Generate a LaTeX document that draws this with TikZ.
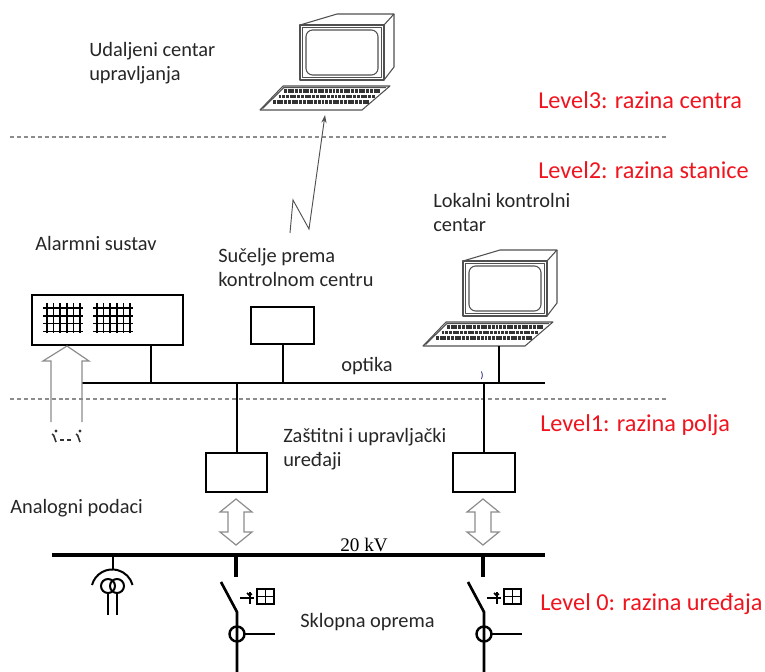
\documentclass[tikz,border=0pt]{standalone}
\usepackage{fontspec}
\setmainfont{Carlito}
\newfontfamily\timesfont{Liberation Serif}
\usetikzlibrary{arrows.meta}
\definecolor{lvlred}{RGB}{240,20,30}
\definecolor{cgray}{RGB}{80,80,80}
\definecolor{agray}{RGB}{140,140,140}
\tikzset{
  lbl/.style={font=\fontsize{15.3}{18}\selectfont, inner sep=0pt, anchor=west, align=left, text=black!85},
  lvl/.style={font=\fontsize{18.2}{22}\selectfont, inner sep=0pt, anchor=west, text=lvlred},
  boxnode/.style={draw, line width=1.5pt, inner sep=0pt},
  wire/.style={line width=1.5pt},
  optbus/.style={line width=1.7pt},
  hvbus/.style={line width=3pt},
  levelline/.style={draw=agray, line width=1.1pt, dash pattern=on 3pt off 2.2pt},
  hollow/.style={draw=agray, line width=0.9pt, fill=white, line join=miter},
  keyrow/.style={line width=2.4pt, black!80, dash pattern=on 2.2pt off 0.6pt},
  computer/.pic={
    \begin{scope}[draw=cgray, line width=0.8pt, line join=round]
      \draw (0,0) -- (37,-11) -- (94,-11) -- (84,0);
      \draw (94,-11) -- (94,42) -- (84,55);
      \draw (0,0) rectangle (84,55);
      \draw (2.5,2.5) rectangle (81.5,52.5);
      \draw[rounded corners=5pt] (6,5) rectangle (78,50);
      \draw (-40,85) -- (-17,61) -- (90,61) -- (62,85) -- cycle;
      \draw (-37.5,83.5) -- (-16,62.5) -- (86,62.5);
      \draw[keyrow] (-16,66) -- (80,66);
      \draw[keyrow] (-21.5,71.5) -- (75,71.5);
      \draw[keyrow] (-27,77) -- (70,77);
    \end{scope}
  },
  dblarrow/.pic={
    \draw[hollow] (0,-23) -- (16,-10) -- (8,-10) -- (8,10) -- (16,10) -- (0,23)
      -- (-16,10) -- (-8,10) -- (-8,-10) -- (-16,-10) -- cycle;
  },
  swgear/.pic={
    \draw[line width=3pt] (0,0) -- (0,22);
    \draw[line width=2pt] (-15,27) -- (1,57) -- (1,119);
    \draw[line width=1.5pt] (4,43) -- (11,43);
    \draw[line width=1.3pt] (14,37) -- (14,49);
    \draw[line width=1.3pt] (10,43) -- (18,43);
    \draw[line width=1.3pt] (11,38) .. controls (12,40) and (14,41) .. (16,39);
    \draw[line width=1.5pt] (21,34) rectangle (38,49);
    \draw[line width=1.2pt] (29.5,34) -- (29.5,49) (21,41.5) -- (38,41.5);
    \draw[line width=1.8pt] (1,79) circle[radius=7.5];
    \draw[line width=1.8pt] (8.5,79) -- (39,79);
  }
}
\begin{document}
\begin{tikzpicture}[x=0.75pt,y=-0.75pt]
\useasboundingbox (0,0) rectangle (765,672);

% level separators
\coordinate (d1a) at (10,137); \coordinate (d1b) at (666,137);
\coordinate (d2a) at (10,399); \coordinate (d2b) at (668,399);
\draw[levelline] (d1a) -- (d1b);
\draw[levelline] (d2a) -- (d2b);

% level labels
\node[lvl] (l3) at (538,100) {Level3: razina centra};
\node[lvl] (l2) at (538,170) {Level2: razina stanice};
\node[lvl] (l1) at (540,425) {Level1: razina polja};
\node[lvl] (l0) at (540,604) {Level 0: razina uređaja};

% remote control centre
\pic (pcTop) at (300,25) {computer};
\coordinate (kbTop) at (325,115);
\node[lbl] (tUdaljeni) at (89,63) {Udaljeni centar\\upravljanja};

% radio link
\coordinate (zz0) at (290,233);
\coordinate (zz1) at (293,200);
\coordinate (zz2) at (309,229);
\draw[cgray, line width=0.7pt, -{Stealth[length=6pt,width=4pt]}] (zz0) -- (zz1) -- (zz2) -- (kbTop);

% local control centre
\pic (pcLoc) at (463,261) {computer};
\coordinate (kbLoc) at (499,346);
\node[lbl] (tLokalni) at (433,212) {Lokalni kontrolni\\centar};

% station bus (optika)
\coordinate (oL) at (82,383);
\coordinate (oR) at (545,383);
\draw[optbus] (oL) -- (oR);
\node[lbl] (tOptika) at (341,366) {optika};
\node[inner sep=0pt, font=\fontsize{7}{8}\selectfont, text=blue!40!black] (tiny) at (482,376) {)};

% alarm system
\node[boxnode, minimum width=113.25pt, minimum height=37.5pt] (alarm) at (107.5,320) {};
\node[lbl] (tAlarm) at (35,243) {Alarmni sustav};
\foreach \gx in {43,93} {
  \foreach \i in {0,...,5} \draw[line width=1.2pt] (\gx+4+\i*6.6,303) -- (\gx+4+\i*6.6,333);
  \foreach \j in {0,...,3} \draw[line width=1.2pt] (\gx,308+\j*7.8) -- (\gx+40,308+\j*7.8);
}
\coordinate (tA) at (151,383);
\draw[wire] (tA |- alarm.south) -- (tA);

% analog input arrow
\coordinate (upTip) at (67,346);
\draw[hollow, fill=none] (51,422) -- (51,361) -- (43,361) -- (upTip) -- (89,361) -- (82,361) -- (82,422);
\node[lbl] (tAnalog) at (10,508) {Analogni podaci};
\begin{scope}[line width=1.2pt, black!80]
  \fill (56,431) circle[radius=1.6];
  \draw (52,434) .. controls (55,435) and (54,439) .. (56,442);
  \fill (80,431) circle[radius=1.6];
  \draw (76,434) .. controls (79,435) and (78,439) .. (80,442);
  \draw (60,440) -- (64,440) (67,440) -- (71,440);
\end{scope}

% interface to control centre
\node[boxnode, minimum width=47.25pt, minimum height=27.75pt] (sucelje) at (282.5,325.5) {};
\node[lbl] (tSucelje) at (218,267) {Sučelje prema\\kontrolnom centru};
\draw[wire] (sucelje.south) -- (sucelje.south |- oL);

% local computer to bus
\draw[wire] (kbLoc) -- (kbLoc |- oL);

% protection and control devices
\node[boxnode, minimum width=45.75pt, minimum height=29.25pt] (zl) at (236.5,472.5) {};
\node[boxnode, minimum width=46.5pt, minimum height=29.25pt] (zr) at (483.5,472.5) {};
\draw[wire] (zl.north) -- (zl.north |- oL);
\draw[wire] (zr.north) -- (zr.north |- oL);
\node[lbl] (tZastitni) at (283,449) {Zaštitni i upravljački\\uređaji};

% 20 kV bus
\coordinate (kL) at (52,555);
\coordinate (kR) at (545,555);
\draw[hvbus] (kL) -- (kR);
\node[inner sep=0pt, anchor=south west, font=\timesfont\fontsize{14.4}{16}\selectfont] (t20) at (340,552) {20 kV};

\pic (daL) at (236,522) {dblarrow};
\pic (daR) at (483,522) {dblarrow};

% switchgear
\pic (swL) at (236,555) {swgear};
\pic (swR) at (483,555) {swgear};
\node[lbl] (tSklopna) at (300,622) {Sklopna oprema};

% current transformer
\coordinate (ctTop) at (113,555);
\draw[line width=1.5pt] (ctTop) -- (113,569);
\draw[line width=1.5pt] (92,585) arc[start angle=195, end angle=345, radius=21];
\draw[line width=1.5pt] (108,586) circle[radius=7];
\draw[line width=1.5pt] (117,586) circle[radius=7];
\draw[line width=1.5pt] (108,593) -- (108,615);
\draw[line width=1.5pt] (117,593) -- (117,615);
\end{tikzpicture}
\end{document}
